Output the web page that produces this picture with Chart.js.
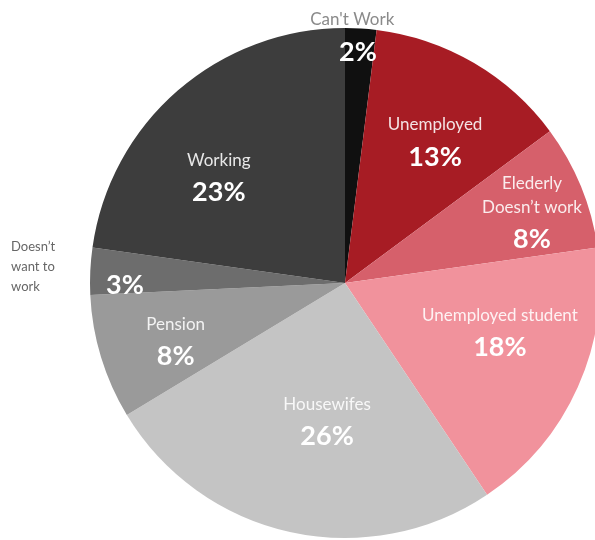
<!DOCTYPE html>
<html>
<head>
<meta charset="utf-8">
<script src="https://cdn.jsdelivr.net/npm/chart.js@4.4.3/dist/chart.umd.min.js"></script>
<style>
  html, body { margin: 0; padding: 0; background: #fff; overflow: hidden; width: 595px; height: 540px; }
  #wrap { position: absolute; left: 0; top: 0; width: 610px; height: 550px; }
</style>
</head>
<body>
<div id="wrap"><canvas id="pie" width="610" height="550"></canvas></div>
<script>
  var CATEGORIES = ["Can't Work", 'Unemployed', 'Elederly\nDoesn\u2019t work', 'Unemployed student',
                    'Housewifes', 'Pension', 'Doesn\u2019t\nwant to\nwork', 'Working'];
  var SHARES = [2, 13, 8, 18, 26, 8, 3, 23];
  var COLORS = ['#101010', '#a71c24', '#d6606b', '#f1929c', '#c4c4c4', '#9a9a9a', '#6d6d6d', '#3d3d3d'];

  // label placement relative to each slice: angle nudge (deg), radius fraction
  var LABEL_NUDGE = [-0.4, 1.9, 1.0, -7.1, -5, -1.5, -2.7, -8.6];
  var LABEL_RADIUS = [0.914, 0.663, 0.787, 0.635, 0.54, 0.70, 0.863, 0.65];
  // names drawn outside the pie for the thin slices
  var OUTSIDE = { 0: { nudge: -2, radius: 1.04 }, 6: { nudge: 0.6, radius: 1.225 } };

  var pieLabels = {
    id: 'pieLabels',
    afterDatasetsDraw: function (chart) {
      var ctx = chart.ctx;
      var arcs = chart.getDatasetMeta(0).data;
      ctx.save();
      ctx.textAlign = 'center';
      ctx.textBaseline = 'middle';
      arcs.forEach(function (arc, i) {
        var mid = (arc.startAngle + arc.endAngle) / 2;
        var r = arc.outerRadius;
        var pct = SHARES[i] + '%';
        var names = CATEGORIES[i].split('\n');

        function at(nudge, frac) {
          var a = mid + nudge * Math.PI / 180;
          return { x: arc.x + Math.cos(a) * r * frac, y: arc.y + Math.sin(a) * r * frac };
        }

        var p = at(LABEL_NUDGE[i], LABEL_RADIUS[i]);
        if (OUTSIDE[i]) {
          ctx.fillStyle = '#ffffff';
          ctx.font = 'bold 27px Lato';
          ctx.fillText(pct, p.x, p.y + 2);

          var q = at(OUTSIDE[i].nudge, OUTSIDE[i].radius);
          if (names.length > 1) {
            ctx.font = '13px Lato';
            ctx.fillStyle = '#666666';
            var w = 0;
            names.forEach(function (n) { w = Math.max(w, ctx.measureText(n).width); });
            ctx.textAlign = 'left';
            names.forEach(function (n, k) {
              ctx.fillText(n, q.x - w / 2, q.y + 2 + (k - (names.length - 1) / 2) * 20);
            });
            ctx.textAlign = 'center';
          } else {
            ctx.font = '17px Lato';
            ctx.fillStyle = '#8a8a8a';
            ctx.fillText(names[0], q.x, q.y + 2);
          }
          return;
        }

        var lineH = 24, pctH = 40;
        var total = names.length * lineH + pctH;
        var y = p.y - total / 2 + 5;
        ctx.font = '17px Lato';
        ctx.fillStyle = 'rgba(255,255,255,0.88)';
        names.forEach(function (n) {
          ctx.fillText(n, p.x, y + lineH / 2);
          y += lineH;
        });
        ctx.font = 'bold 27px Lato';
        ctx.fillStyle = '#ffffff';
        ctx.fillText(pct, p.x, y + pctH / 2);
      });
      ctx.restore();
    }
  };

  new Chart(document.getElementById('pie'), {
    type: 'pie',
    data: {
      labels: CATEGORIES,
      datasets: [{
        data: SHARES,
        backgroundColor: COLORS,
        borderWidth: 0,
        hoverOffset: 0
      }]
    },
    options: {
      responsive: false,
      animation: false,
      layout: { padding: { left: 90, top: 28, right: 10, bottom: 12 } },
      plugins: {
        legend: { display: false },
        tooltip: { enabled: false }
      }
    },
    plugins: [pieLabels]
  });
</script>
</body>
</html>
